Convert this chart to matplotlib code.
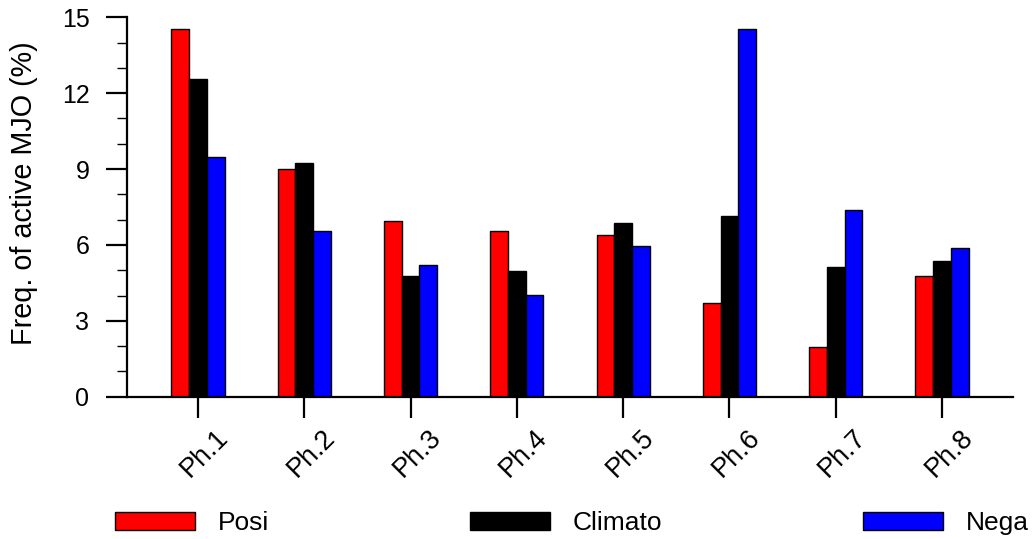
import numpy as np
import matplotlib
matplotlib.use("Agg")
import matplotlib.pyplot as plt
import matplotlib.transforms as mtransforms
from matplotlib.patches import Patch
from matplotlib.ticker import MultipleLocator

plt.rcParams['font.family'] = ['Liberation Sans', 'DejaVu Sans']

phases = ["Ph.1", "Ph.2", "Ph.3", "Ph.4", "Ph.5", "Ph.6", "Ph.7", "Ph.8"]
posi = [14.55, 9.02, 6.96, 6.54, 6.41, 3.69, 1.97, 4.78]
climato = [12.56, 9.23, 4.77, 4.96, 6.88, 7.13, 5.14, 5.37]
nega = [9.47, 6.54, 5.21, 4.03, 5.96, 14.55, 7.37, 5.87]
series_names = ["Posi", "Climato", "Nega"]
series_colors = ["#ff0000", "#000000", "#0000ff"]

fig = plt.figure(figsize=(10.35, 5.39), dpi=100)
ax = fig.add_axes([0.1227, 0.264, 0.856, 0.704])

x = np.arange(1, len(phases) + 1)
w = 0.167
for off, vals, col in zip([-w, 0, w], [posi, climato, nega], series_colors):
    ax.bar(x + off, vals, width=w, color=col, edgecolor='black', linewidth=1.0)

ax.set_xlim(1/3, 8 + 2/3)
ax.set_ylim(0, 15)
ax.yaxis.set_major_locator(MultipleLocator(3))
ax.yaxis.set_minor_locator(MultipleLocator(1))
ax.set_xticks(x)
ax.set_xticklabels([])

# rotated phase labels, nudged a bit right of the ticks like the original
offset = mtransforms.ScaledTranslation(7/100, -28/100, fig.dpi_scale_trans)
for xi, lab in zip(x, phases):
    ax.text(xi, 0, lab, rotation=45, ha='center', va='top', fontsize=19.5,
            transform=ax.get_xaxis_transform() + offset)

for s in ['top', 'right']:
    ax.spines[s].set_visible(False)
for s in ['left', 'bottom']:
    ax.spines[s].set_linewidth(1.6)

ax.tick_params(axis='y', which='major', direction='out', length=15, width=1.6,
               labelsize=18, pad=12)
ax.tick_params(axis='y', which='minor', direction='out', length=7, width=1.0)
ax.tick_params(axis='x', which='major', direction='out', length=15, width=1.6)

ax.set_ylabel("Freq. of active MJO (%)", fontsize=20.7)
ax.yaxis.set_label_coords(-0.1, 0.537)

handles = [Patch(facecolor=c, edgecolor='black', linewidth=1.0) for c in series_colors]
fig.legend(handles, series_names, loc='center left', bbox_to_anchor=(115/1035, 0.0297),
           ncol=3, frameon=False, fontsize=19, handlelength=3.05, handleheight=0.7,
           handletextpad=0.85, columnspacing=7.6, borderpad=0, borderaxespad=0)

fig.savefig("out.png", dpi=100)
